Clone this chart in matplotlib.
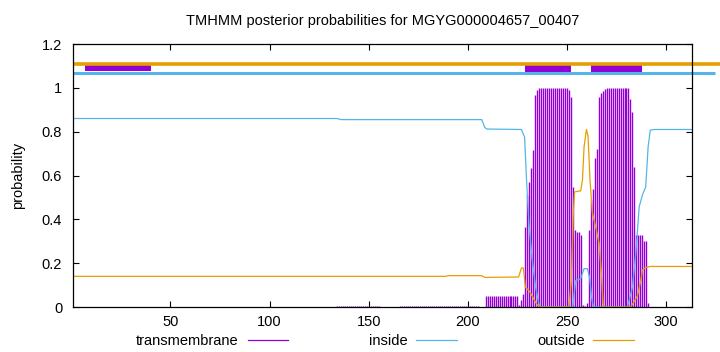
import matplotlib
matplotlib.use("Agg")
import matplotlib.pyplot as plt
from matplotlib.lines import Line2D

plt.rcParams['font.family'] = ['Liberation Sans', 'DejaVu Sans']

title = "TMHMM posterior probabilities for MGYG000004657_00407"
seq_len = 313

# transmembrane posterior (impulses), per residue
tm_res = (list(range(134, 156)) + list(range(166, 206)) + list(range(209, 226))
          + list(range(226, 292)))
tm_val = ([0.006] * 22 + [0.003] * 40 + [0.052] * 17
          + [0.01, 0.03, 0.06, 0.365, 0.51, 0.57, 0.633, 0.716, 0.967, 0.99,   # 226-235
             1.0, 1.0, 1.0, 1.0, 1.0, 1.0, 1.0, 1.0, 1.0, 1.0,                 # 236-245
             1.0, 1.0, 1.0, 1.0, 1.0, 0.99, 0.96, 0.548, 0.35, 0.34,           # 246-255
             0.34, 0.33, 0.01, 0.005, 0.02, 0.35, 0.49, 0.54, 0.68, 0.72,      # 256-265
             0.96, 0.975, 0.985, 0.993, 1.0, 1.0, 1.0, 1.0, 1.0, 1.0,          # 266-275
             1.0, 1.0, 1.0, 1.0, 1.0, 1.0, 0.95, 0.89, 0.64, 0.33,             # 276-285
             0.33, 0.33, 0.33, 0.30, 0.30, 0.02])                              # 286-291

# inside posterior (line)
inside_x = [1, 134, 136, 207, 208.5, 209.5, 227, 228.6, 229.6, 230.8, 232.5, 234.2,
            235.9, 237, 253, 253.6, 254.4, 256.9, 258.6, 260.3, 261.5, 262.3, 263.3,
            280.5, 283, 284.7, 286.4, 288, 289.7, 290.9, 292, 294, 313]
inside_y = [0.86, 0.86, 0.855, 0.855, 0.82, 0.812, 0.81, 0.776, 0.578, 0.38, 0.213, 0.09,
            0.01, 0.0, 0.0, 0.06, 0.12, 0.13, 0.175, 0.175, 0.13, 0.05, 0.0,
            0.0, 0.09, 0.245, 0.457, 0.51, 0.548, 0.73, 0.807, 0.81, 0.81]

# outside posterior (line)
outside_x = [1, 189, 190, 207, 208.5, 225.6, 227, 228, 229, 230.8, 232.5, 234.2, 236,
             251, 252.2, 253.2, 253.8, 256.9, 257.8, 258.6, 259.8, 260.6, 261.6, 262.8,
             264.5, 266.2, 267.4, 268.2, 269, 282.2, 285.5, 287.2, 288, 289.7, 292, 313]
outside_y = [0.14, 0.14, 0.143, 0.143, 0.135, 0.137, 0.178, 0.178, 0.09, 0.075, 0.05, 0.02, 0.0,
             0.0, 0.12, 0.43, 0.525, 0.53, 0.58, 0.73, 0.81, 0.78, 0.58, 0.43,
             0.365, 0.29, 0.15, 0.01, 0.0, 0.0, 0.05, 0.12, 0.168, 0.18, 0.185, 0.185]

# predicted topology strip
outside_strip = (1, 328)
inside_strip = (1, 324.5)
helix_regions = [(229, 252), (262, 288)]
small_region = (7, 40)

yticks = [0, 0.2, 0.4, 0.6, 0.8, 1.0, 1.2]
ytick_labels = ["0", "0.2", "0.4", "0.6", "0.8", "1", "1.2"]
xticks = [50, 100, 150, 200, 250, 300]

c_tm = "#9400D3"
c_in = "#56B4E9"
c_out = "#E69F00"

fig = plt.figure(figsize=(7.2, 3.52), dpi=100)
ax = fig.add_axes([0.1018, 0.1278, 0.8592, 0.7472])

ax.vlines(tm_res, 0, tm_val, color=c_tm, linewidth=1.0)
ax.plot(inside_x, inside_y, color=c_in, linewidth=0.9)
ax.plot(outside_x, outside_y, color=c_out, linewidth=0.9)

ax.plot(list(outside_strip), [1.11, 1.11], color=c_out, linewidth=2.6,
        solid_capstyle='butt', clip_on=False)
ax.plot(list(inside_strip), [1.069, 1.069], color=c_in, linewidth=2.2,
        solid_capstyle='butt', clip_on=False)
ax.fill_between(list(small_region), 1.076, 1.102, color=c_tm, linewidth=0)
for (s, e) in helix_regions:
    ax.fill_between([s, e], 1.066, 1.115, color=c_tm, linewidth=0)

ax.set_xlim(1, seq_len)
ax.set_ylim(0, 1.2)
ax.set_xticks(xticks)
ax.set_xticklabels([str(t) for t in xticks])
ax.set_yticks(yticks)
ax.set_yticklabels(ytick_labels)
ax.tick_params(direction='in', length=4, width=0.8, top=True, right=True,
               labelsize=10.5, colors='black')
ax.tick_params(axis='y', pad=8)
ax.tick_params(axis='x', pad=6)
for sp in ax.spines.values():
    sp.set_linewidth(0.9)

ax.set_ylabel("probability", fontsize=10.5, labelpad=12)
ax.set_title(title, fontsize=10.5, pad=14)

handles = [Line2D([], [], color=c_tm, linewidth=0.9),
           Line2D([], [], color=c_in, linewidth=0.9),
           Line2D([], [], color=c_out, linewidth=0.9)]
fig.legend(handles, ["transmembrane", "inside", "outside"], ncol=3,
           loc='center', bbox_to_anchor=(0.535, 0.03), frameon=False,
           markerfirst=False, handlelength=2.8, columnspacing=5.5,
           handletextpad=0.6, fontsize=10.5)

fig.savefig("out.png", dpi=100)
